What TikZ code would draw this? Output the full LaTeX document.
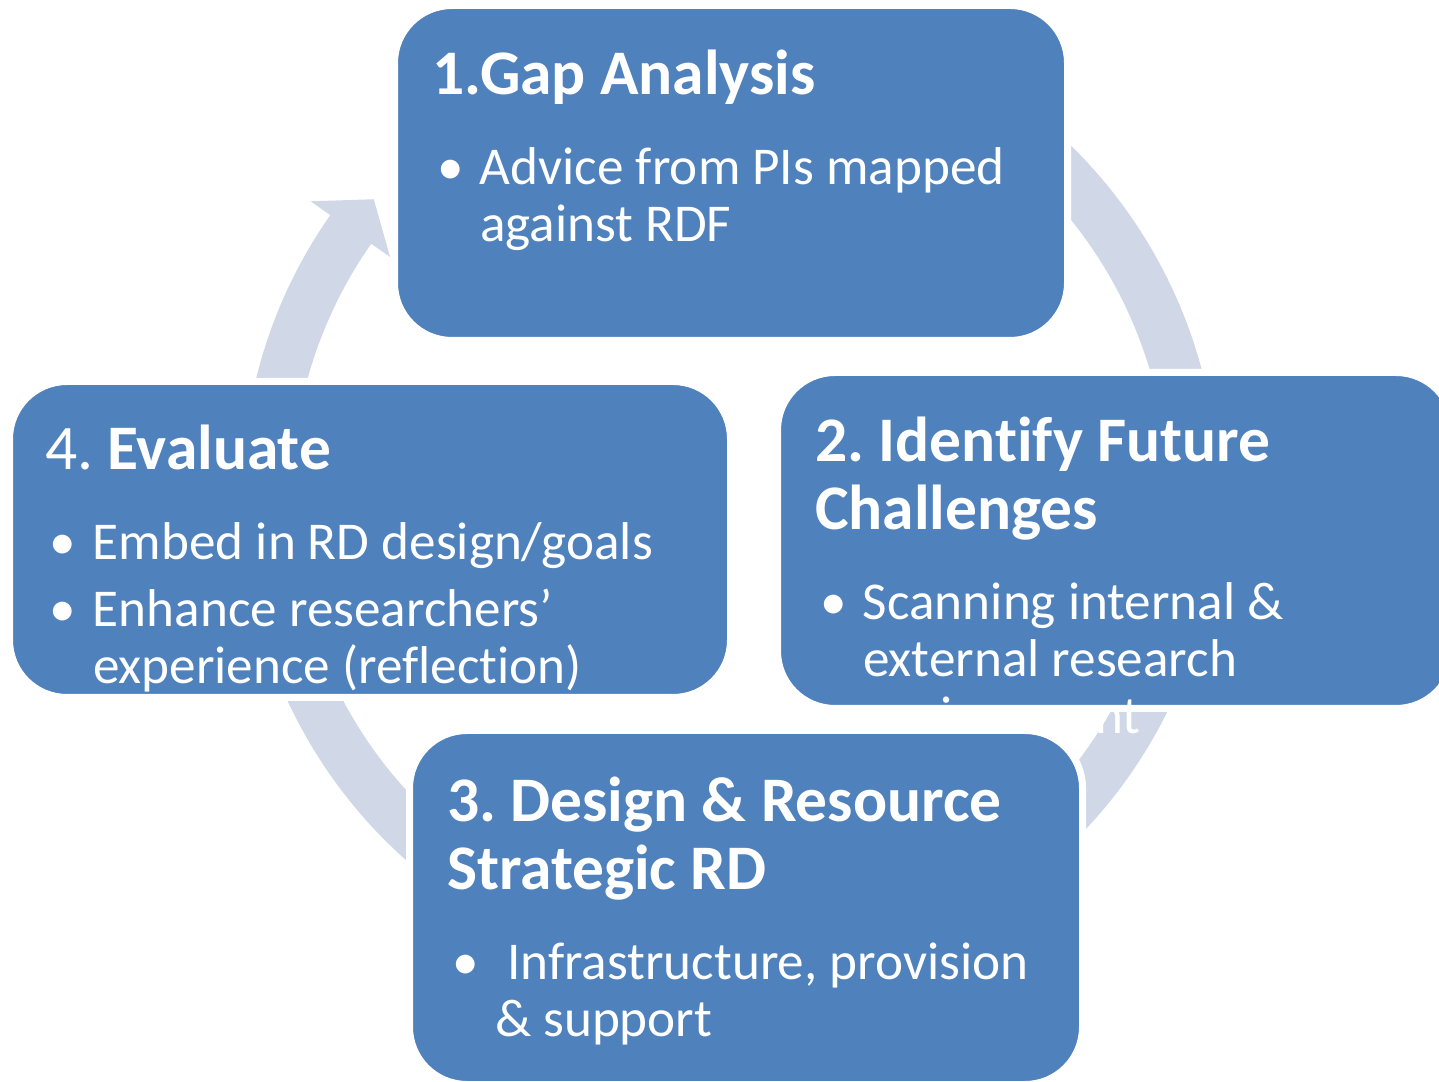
\documentclass[tikz,border=0pt]{standalone}
\usepackage{fontspec}
\setmainfont{Carlito}[Ligatures={NoCommon,NoContextual}]
\usetikzlibrary{positioning}

\definecolor{boxblue}{RGB}{79,129,189}
\definecolor{ringblue}{RGB}{208,216,232}

% heading of a step: first line strut fixes the baseline below the top
\newcommand{\steptitle}[1]{{\fontsize{63.5}{68}\selectfont\bfseries\frenchspacing\spaceskip=0pt\xspaceskip=0pt
  \noindent\rule{0pt}{70pt}#1\par}}
% one bullet point with hanging indent
\newcommand{\stepitem}[1]{{\fontsize{53.2}{57}\selectfont\frenchspacing\spaceskip=0pt\xspaceskip=0pt
  \hangindent=48pt\hangafter=1\noindent\makebox[48pt][l]{\hspace{5pt}\textbullet}#1\par}}

\tikzset{
  stepbox/.style={fill=boxblue, draw=white, line width=2pt, rounded corners=55pt,
    inner sep=0pt, outer sep=0pt, preaction={draw=white, line width=12pt}},
  steptext/.style={text=white, inner sep=0pt, outer sep=0pt, text width=680pt},
}

\begin{document}
\begin{tikzpicture}[x=1pt, y=1pt]
\useasboundingbox (0,0) rectangle (1439,1081);

% circular arrow behind the boxes
\fill[ringblue, shift={(730,586)}] (120:488) arc[start angle=120, end angle=-215, radius=488]
  -- (-215:512) -- (-219.7:463) -- (-215:415) -- (-215:438)
  arc[start angle=-215, end angle=120, radius=438] -- cycle;

\node[stepbox, minimum width=668pt, minimum height=330pt] (gap) at (731,908) {};
\node[steptext, below right=17pt and 35pt of gap.north west] (gaptext) {%
  \steptitle{1.Gap Analysis}\vspace{33pt}%
  \stepitem{Advice from PIs mapped\newline against RDF}};

\node[stepbox, minimum width=671pt, minimum height=331pt] (future) at (1115.5,540.5) {};
\node[steptext, below right=17pt and 35pt of future.north west] (futuretext) {%
  \steptitle{2. Identify Future\newline Challenges}\vspace{33pt}%
  \stepitem{Scanning internal \&\newline external research\newline environment}};

\node[stepbox, minimum width=668pt, minimum height=349pt] (design) at (746,173.5) {};
\node[steptext, below right=19pt and 35pt of design.north west] (designtext) {%
  \steptitle{3. Design \& Resource\newline Strategic RD}\vspace{33pt}%
  \stepitem{\ Infrastructure, provision\newline \& support}};

\node[stepbox, minimum width=716pt, minimum height=311pt] (eval) at (370,541.5) {};
\node[steptext, below right=16pt and 33pt of eval.north west] (evaltext) {%
  \steptitle{\textmd{4.} Evaluate}\vspace{33pt}%
  \stepitem{Embed in RD design/goals}\vspace{10pt}%
  \stepitem{Enhance researchers’\newline experience (reflection)}};
\end{tikzpicture}
\end{document}
